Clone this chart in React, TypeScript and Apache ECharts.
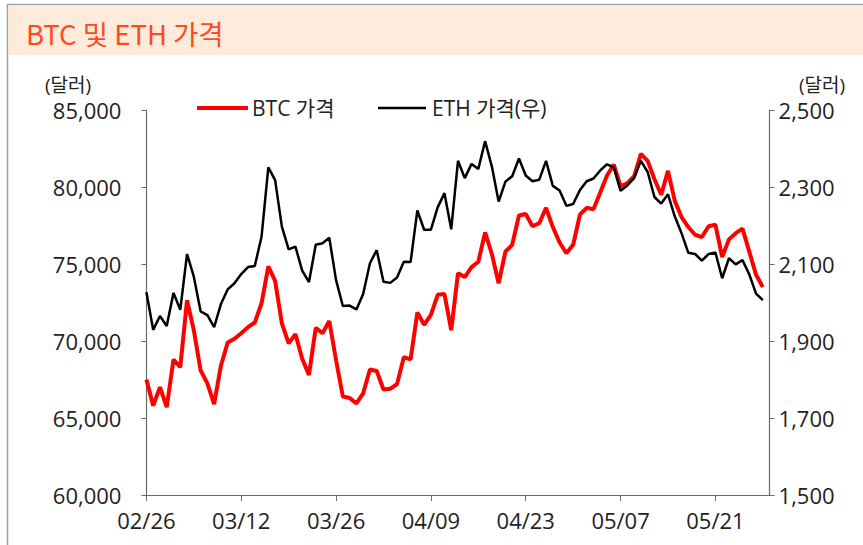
import React, { useEffect, useRef } from "react";
import * as echarts from "echarts";

const FONT = '"Open Sans", "Noto Sans CJK KR", sans-serif';
const TITLE_FONT = '"Noto Sans CJK KR", "Noto Sans", sans-serif';
const TITLE = "BTC 및 ETH 가격";
const UNIT = "(달러)";
const SERIES_NAMES = ["BTC 가격", "ETH 가격(우)"];
const SERIES_COLORS = ["#FF0000", "#000000"];

const dates = [
  "02/26", "02/27", "02/28",
  "03/01", "03/02", "03/03", "03/04", "03/05", "03/06", "03/07", "03/08", "03/09", "03/10",
  "03/11", "03/12", "03/13", "03/14", "03/15", "03/16", "03/17", "03/18", "03/19", "03/20",
  "03/21", "03/22", "03/23", "03/24", "03/25", "03/26", "03/27", "03/28", "03/29", "03/30", "03/31",
  "04/01", "04/02", "04/03", "04/04", "04/05", "04/06", "04/07", "04/08", "04/09", "04/10",
  "04/11", "04/12", "04/13", "04/14", "04/15", "04/16", "04/17", "04/18", "04/19", "04/20",
  "04/21", "04/22", "04/23", "04/24", "04/25", "04/26", "04/27", "04/28", "04/29", "04/30",
  "05/01", "05/02", "05/03", "05/04", "05/05", "05/06", "05/07", "05/08", "05/09", "05/10",
  "05/11", "05/12", "05/13", "05/14", "05/15", "05/16", "05/17", "05/18", "05/19", "05/20",
  "05/21", "05/22", "05/23", "05/24", "05/25", "05/26", "05/27", "05/28", "05/29",
];

const btcPrice = [
  67500, 65800, 67000, 65700, 68800, 68300, 72650, 70700, 68100, 67250,
  65900, 68400, 69900, 70150, 70500, 70900, 71200, 72450, 74850, 73900,
  71150, 69850, 70450, 68850, 67800, 70850, 70500, 71300, 68750, 66400,
  66300, 65950, 66600, 68150, 68050, 66850, 66900, 67200, 68950, 68800,
  71850, 71050, 71700, 73000, 73050, 70700, 74400, 74150, 74800, 75150,
  77050, 75650, 73750, 75800, 76250, 78150, 78250, 77450, 77650, 78650,
  77400, 76400, 75700, 76250, 78200, 78650, 78550, 79650, 80750, 81450,
  80050, 80250, 80700, 82150, 81700, 80500, 79500, 81050, 79100, 78050,
  77400, 76900, 76750, 77450, 77550, 75450, 76600, 77000, 77300, 75800,
  74300, 73500,
];

const ethPrice = [
  2027, 1929, 1965, 1939, 2025, 1981, 2126, 2067, 1977, 1967,
  1936, 1996, 2034, 2050, 2074, 2092, 2095, 2171, 2351, 2318,
  2197, 2138, 2145, 2083, 2053, 2150, 2154, 2168, 2058, 1991,
  1992, 1982, 2022, 2102, 2136, 2054, 2051, 2065, 2106, 2105,
  2239, 2189, 2189, 2247, 2284, 2190, 2368, 2323, 2360, 2347,
  2419, 2353, 2262, 2314, 2328, 2374, 2330, 2315, 2319, 2368,
  2303, 2291, 2251, 2256, 2292, 2315, 2322, 2343, 2359, 2351,
  2290, 2304, 2323, 2368, 2339, 2274, 2257, 2281, 2224, 2180,
  2129, 2126, 2109, 2126, 2130, 2063, 2115, 2099, 2110, 2073,
  2023, 2006,
];

const leftAxis = { min: 60000, max: 85000, interval: 5000 };
const rightAxis = { min: 1500, max: 2500, interval: 200 };

const fmt = (v: number) => v.toLocaleString("en-US");

export default function App() {
  const ref = useRef<HTMLDivElement>(null);

  useEffect(() => {
    document.body.style.margin = "0";
    if (!ref.current) return;
    const chart = echarts.init(ref.current, undefined, { renderer: "svg" });
    const axisColor = "#6b6b6b";
    const labelColor = "#222";
    const legendY = 108;
    chart.setOption({
      animation: false,
      textStyle: { fontFamily: FONT },
      graphic: [
        {
          type: "rect",
          silent: true,
          shape: { x: 7.5, y: 4.5, width: 870, height: 560 },
          style: { fill: "none", stroke: "#a0a0a0", lineWidth: 1.5 },
        },
        {
          type: "rect",
          silent: true,
          shape: { x: 8.5, y: 5.5, width: 860, height: 49.5 },
          style: { fill: "#FEEBDC" },
        },
        {
          type: "text",
          x: 26,
          y: 33,
          style: {
            text: TITLE,
            fontSize: 27.5,
            fontFamily: TITLE_FONT,
            fill: "#FF4A1C",
            verticalAlign: "middle",
            align: "left",
          },
        },
        {
          type: "text",
          x: 68,
          y: 85,
          style: {
            text: UNIT,
            fontSize: 19,
            fontFamily: FONT,
            fill: labelColor,
            verticalAlign: "middle",
            align: "center",
          },
        },
        {
          type: "text",
          x: 822,
          y: 85,
          style: {
            text: UNIT,
            fontSize: 19,
            fontFamily: FONT,
            fill: labelColor,
            verticalAlign: "middle",
            align: "center",
          },
        },
        {
          type: "line",
          silent: true,
          shape: { x1: 197, y1: legendY, x2: 248, y2: legendY },
          style: { stroke: SERIES_COLORS[0], lineWidth: 4 },
        },
        {
          type: "text",
          x: 252,
          y: legendY,
          style: {
            text: SERIES_NAMES[0],
            fontSize: 21,
            fontFamily: FONT,
            fill: labelColor,
            verticalAlign: "middle",
            align: "left",
          },
        },
        {
          type: "line",
          silent: true,
          shape: { x1: 378, y1: legendY, x2: 426, y2: legendY },
          style: { stroke: SERIES_COLORS[1], lineWidth: 2.5 },
        },
        {
          type: "text",
          x: 432,
          y: legendY,
          style: {
            text: SERIES_NAMES[1],
            fontSize: 21,
            fontFamily: FONT,
            fill: labelColor,
            verticalAlign: "middle",
            align: "left",
          },
        },
      ],
      grid: { left: 146.4, right: 93.4, top: 110, bottom: 50, containLabel: false },
      xAxis: {
        type: "category",
        data: dates,
        boundaryGap: false,
        axisLine: { lineStyle: { color: axisColor, width: 1.2 } },
        axisTick: { interval: 13, length: 6, lineStyle: { color: axisColor } },
        axisLabel: {
          interval: 13,
          margin: 14,
          fontSize: 22,
          color: labelColor,
          fontFamily: FONT,
        },
        splitLine: { show: false },
      },
      yAxis: [
        {
          type: "value",
          position: "left",
          ...leftAxis,
          axisLine: { show: true, lineStyle: { color: axisColor, width: 1.2 } },
          axisTick: { show: true, length: 5, lineStyle: { color: axisColor } },
          axisLabel: { margin: 25, fontSize: 22, color: labelColor, fontFamily: FONT, formatter: fmt },
          splitLine: { show: false },
        },
        {
          type: "value",
          position: "right",
          ...rightAxis,
          axisLine: { show: true, lineStyle: { color: axisColor, width: 1.2 } },
          axisTick: { show: true, length: 5, lineStyle: { color: axisColor } },
          axisLabel: { margin: 9, fontSize: 22, color: labelColor, fontFamily: FONT, formatter: fmt },
          splitLine: { show: false },
        },
      ],
      series: [
        {
          name: SERIES_NAMES[0],
          type: "line",
          data: btcPrice,
          yAxisIndex: 0,
          symbol: "none",
          lineStyle: { color: SERIES_COLORS[0], width: 4 },
          itemStyle: { color: SERIES_COLORS[0] },
        },
        {
          name: SERIES_NAMES[1],
          type: "line",
          data: ethPrice,
          yAxisIndex: 1,
          symbol: "none",
          lineStyle: { color: SERIES_COLORS[1], width: 2.5 },
          itemStyle: { color: SERIES_COLORS[1] },
        },
      ],
    });
    return () => chart.dispose();
  }, []);

  return <div ref={ref} style={{ width: 863, height: 545 }} />;
}
